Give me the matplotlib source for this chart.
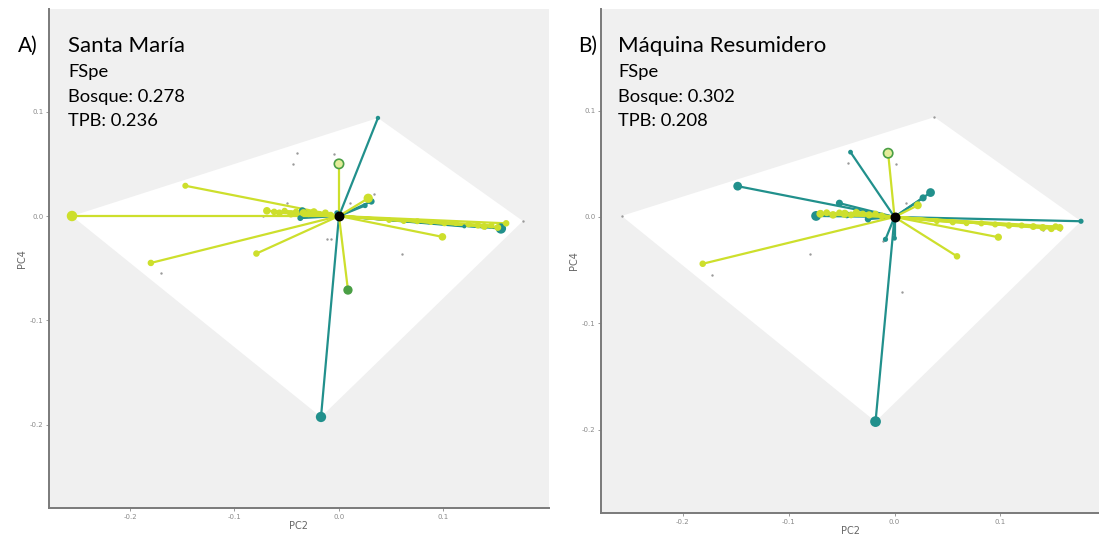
import numpy as np
import matplotlib
matplotlib.use("Agg")
import matplotlib.pyplot as plt

plt.rcParams['font.family'] = ['Lato', 'DejaVu Sans']

TEAL = '#21908c'
YELLOW = '#cddf2c'
GREEN = '#4a9f45'
GREY_PT = '#9a9a9a'

# ---- Santa María: species coordinates (PC2, PC4) and point size ----
sm_bosque_x = [0.0373, -0.0172, 0.031, 0.025, -0.035, -0.037, 0.155, 0.120, 0.140, -0.002]
sm_bosque_y = [0.094, -0.1927, 0.014, 0.010, 0.005, -0.002, -0.012, -0.010, -0.011, 0.003]
sm_bosque_s = [10, 55, 22, 14, 26, 18, 55, 8, 8, 14]

sm_tpb_x = [-0.2555, -0.147, -0.180, -0.079, 0.099, 0.160, 0.0, 0.0086, 0.028, 0.139,
            -0.069, -0.062, -0.057, -0.052, -0.046, -0.041, -0.034, -0.029, -0.024, -0.019, -0.013, -0.008,
            0.048, 0.062, 0.075, 0.088, 0.101, 0.112, 0.124, 0.133, 0.146, 0.152]
sm_tpb_y = [0.0, 0.029, -0.045, -0.036, -0.020, -0.007, 0.050, -0.071, 0.017, -0.010,
            0.005, 0.004, 0.003, 0.005, 0.002, 0.004, 0.003, 0.002, 0.004, 0.002, 0.003, 0.001,
            -0.004, -0.005, -0.005, -0.006, -0.007, -0.007, -0.008, -0.009, -0.009, -0.011]
sm_tpb_s = [40, 10, 12, 12, 18, 12, 45, 30, 30, 14,
            18, 12, 14, 10, 16, 12, 18, 12, 16, 10, 14, 12,
            8, 8, 10, 8, 10, 8, 10, 12, 10, 14]
sm_tpb_open = [6]
sm_tpb_shared = [7]

sm_pool_x = [-0.040, -0.005, -0.044, 0.034, 0.011, -0.063, -0.073, -0.050, -0.011, -0.008, 0.060, 0.176, -0.170]
sm_pool_y = [0.060, 0.059, 0.050, 0.021, 0.012, 0.003, 0.0, 0.012, -0.022, -0.022, -0.036, -0.0048, -0.055]

# ---- Máquina Resumidero ----
mr_bosque_x = [-0.0415, -0.148, -0.052, 0.034, 0.027, -0.074, -0.025, -0.0085, 0.0, 0.176, -0.0179, -0.045]
mr_bosque_y = [0.061, 0.029, 0.013, 0.023, 0.018, 0.001, -0.002, -0.021, -0.020, -0.004, -0.1925, 0.002]
mr_bosque_s = [12, 40, 26, 40, 26, 50, 22, 14, 12, 14, 60, 24]

mr_tpb_x = [-0.006, -0.181, 0.059, 0.098, 0.156, 0.022,
            -0.070, -0.064, -0.058, -0.052, -0.047, -0.041, -0.036, -0.030, -0.024, -0.018, -0.012,
            0.040, 0.055, 0.068, 0.082, 0.095, 0.108, 0.120, 0.131, 0.140, 0.148, 0.152]
mr_tpb_y = [0.060, -0.044, -0.037, -0.019, -0.010, 0.011,
            0.003, 0.004, 0.002, 0.004, 0.003, 0.002, 0.004, 0.003, 0.002, 0.003, 0.001,
            -0.004, -0.005, -0.006, -0.006, -0.007, -0.008, -0.008, -0.009, -0.010, -0.011, -0.009]
mr_tpb_s = [45, 12, 12, 16, 16, 20,
            20, 14, 18, 12, 22, 14, 18, 12, 16, 12, 14,
            8, 10, 8, 10, 10, 12, 10, 14, 16, 14, 12]
mr_tpb_open = [0]
mr_tpb_shared = []

mr_pool_x = [-0.2575, 0.0377, -0.044, 0.001, 0.011, -0.069, -0.011, -0.080, -0.172, 0.0075, 0.140, 0.156]
mr_pool_y = [0.001, 0.094, 0.051, 0.050, 0.013, 0.006, -0.023, -0.035, -0.055, -0.071, -0.012, -0.012]

panels = [
    dict(tag='A)', site='Santa María', bosque='0.278', tpb='0.236',
         bx=sm_bosque_x, by=sm_bosque_y, bs=sm_bosque_s,
         tx=sm_tpb_x, ty=sm_tpb_y, ts=sm_tpb_s, topen=sm_tpb_open, tshared=sm_tpb_shared,
         px=sm_pool_x, py=sm_pool_y,
         rect=[49, 9, 500, 499], xlim=(-0.2775, 0.201), ylim=(-0.280, 0.1985),
         tag_x=18, txt_x=68),
    dict(tag='B)', site='Máquina Resumidero', bosque='0.302', tpb='0.208',
         bx=mr_bosque_x, by=mr_bosque_y, bs=mr_bosque_s,
         tx=mr_tpb_x, ty=mr_tpb_y, ts=mr_tpb_s, topen=mr_tpb_open, tshared=mr_tpb_shared,
         px=mr_pool_x, py=mr_pool_y,
         rect=[601, 9, 498, 504], xlim=(-0.277, 0.193), ylim=(-0.2785, 0.1957),
         tag_x=578, txt_x=618),
]


def convex_hull(pts):
    pts = sorted(set(pts))
    def cross(o, a, b):
        return (a[0] - o[0]) * (b[1] - o[1]) - (a[1] - o[1]) * (b[0] - o[0])
    lower, upper = [], []
    for p in pts:
        while len(lower) >= 2 and cross(lower[-2], lower[-1], p) <= 0:
            lower.pop()
        lower.append(p)
    for p in reversed(pts):
        while len(upper) >= 2 and cross(upper[-2], upper[-1], p) <= 0:
            upper.pop()
        upper.append(p)
    return lower[:-1] + upper[:-1]


W, H = 1099, 535
fig = plt.figure(figsize=(W / 100, H / 100), dpi=100)
fig.patch.set_facecolor('white')

for p in panels:
    x0, y0, w, h = p['rect']
    ax = fig.add_axes([x0 / W, (H - y0 - h) / H, w / W, h / H])
    ax.set_facecolor('#f0f0f0')
    ax.set_xlim(*p['xlim'])
    ax.set_ylim(*p['ylim'])

    allpts = list(zip(p['bx'], p['by'])) + list(zip(p['tx'], p['ty'])) + list(zip(p['px'], p['py']))
    hull = convex_hull(allpts)
    ax.add_patch(plt.Polygon(hull, closed=True, facecolor='white', edgecolor='none', zorder=1))

    # pool species not in this site
    ax.scatter(p['px'], p['py'], s=3, color=GREY_PT, zorder=2, linewidths=0)

    # segments from centroid
    for x, y in zip(p['bx'], p['by']):
        ax.plot([0, x], [0, y], color=TEAL, lw=1.6, zorder=3, solid_capstyle='round')
    for x, y in zip(p['tx'], p['ty']):
        ax.plot([0, x], [0, y], color=YELLOW, lw=1.6, zorder=4, solid_capstyle='round')

    ax.scatter(p['bx'], p['by'], s=p['bs'], color=TEAL, zorder=5, linewidths=0)
    tfc = [YELLOW] * len(p['tx'])
    tec = [YELLOW] * len(p['tx'])
    for i in p['topen']:
        tfc[i] = '#e4ec9a'
        tec[i] = GREEN
    for i in p['tshared']:
        tfc[i] = GREEN
        tec[i] = GREEN
    ax.scatter(p['tx'], p['ty'], s=p['ts'], facecolors=tfc, edgecolors=tec, linewidths=1.2, zorder=6)

    ax.scatter([0], [0], s=38, color='black', zorder=8)

    for side in ['top', 'right']:
        ax.spines[side].set_visible(False)
    for side in ['left', 'bottom']:
        ax.spines[side].set_color('#7a7a7a')
        ax.spines[side].set_linewidth(1.4)
    ax.set_xticks([-0.2, -0.1, 0.0, 0.1])
    ax.set_yticks([-0.2, -0.1, 0.0, 0.1])
    ax.set_xticklabels(['-0.2', '-0.1', '0.0', '0.1'])
    ax.set_yticklabels(['-0.2', '-0.1', '0.0', '0.1'])
    ax.tick_params(colors='#8a8a8a', labelsize=5, length=2, width=0.6, pad=2)
    ax.set_xlabel('PC2', fontsize=7, color='#666666', labelpad=1, family='DejaVu Sans')
    ax.set_ylabel('PC4', fontsize=7, color='#666666', labelpad=2, family='DejaVu Sans')
    for lbl in ax.get_xticklabels() + ax.get_yticklabels():
        lbl.set_family('DejaVu Sans')

    # site header text
    fig.text(p['tag_x'] / W, 1 - 52 / H, p['tag'], fontsize=15, color='black', va='baseline')
    fig.text(p['txt_x'] / W, 1 - 52 / H, p['site'], fontsize=16, color='black', va='baseline')
    fig.text(p['txt_x'] / W, 1 - 77 / H, 'FSpe', fontsize=13.2, color='black', va='baseline')
    fig.text(p['txt_x'] / W, 1 - 102 / H, 'Bosque: ' + p['bosque'], fontsize=13.2, color='black', va='baseline')
    fig.text(p['txt_x'] / W, 1 - 126 / H, 'TPB: ' + p['tpb'], fontsize=13.2, color='black', va='baseline')

fig.savefig('out.png', dpi=100, facecolor='white')
